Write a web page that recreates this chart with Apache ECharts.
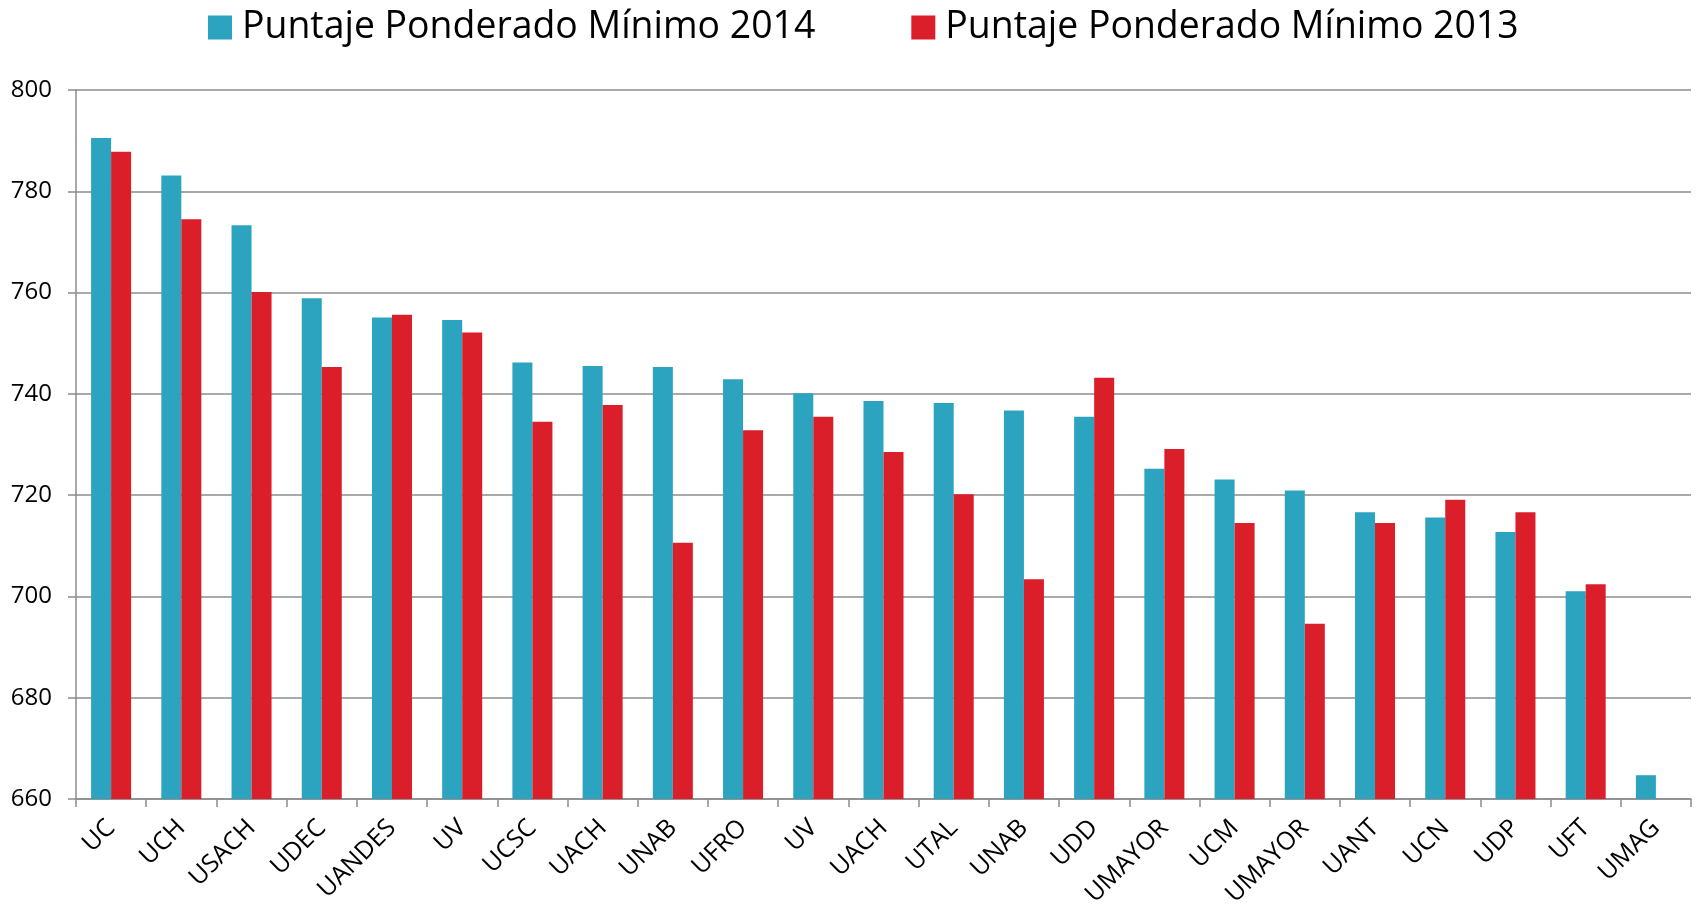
<!DOCTYPE html>
<html>
<head>
<meta charset="utf-8">
<title>Puntaje Ponderado Mínimo</title>
<script src="https://cdn.jsdelivr.net/npm/echarts@6/dist/echarts.min.js"></script>
<style>
    html, body { margin: 0; padding: 0; background: #fff; }
    #grafico { width: 1700px; height: 905px; }
</style>
</head>
<body>
<div id="grafico"></div>
<script>
// universidades (eje x)
var universidades = ['UC', 'UCH', 'USACH', 'UDEC', 'UANDES', 'UV', 'UCSC', 'UACH', 'UNAB', 'UFRO', 'UV', 'UACH',
    'UTAL', 'UNAB', 'UDD', 'UMAYOR', 'UCM', 'UMAYOR', 'UANT', 'UCN', 'UDP', 'UFT', 'UMAG'];
// puntajes 2014
var puntaje2014 = [790.5, 783.1, 773.3, 758.9, 755.1, 754.6, 746.2, 745.5, 745.3, 742.9, 740.1, 738.6,
    738.2, 736.7, 735.5, 725.2, 723.1, 720.9, 716.6, 715.6, 712.7, 701.0, 664.7];
// puntajes 2013 (UMAG sin dato)
var puntaje2013 = [787.8, 774.5, 760.1, 745.3, 755.6, 752.1, 734.5, 737.8, 710.6, 732.8, 735.5, 728.5,
    720.2, 703.4, 743.2, 729.1, 714.5, 694.6, 714.5, 719.1, 716.6, 702.4, null];
var nombres = ['Puntaje Ponderado Mínimo 2014', 'Puntaje Ponderado Mínimo 2013'];

var fuente = '"Open Sans", "DejaVu Sans", sans-serif';
var gris = '#8c8c8c';

var myChart = echarts.init(document.getElementById('grafico'));
var option = {
    animation: false,
    color: ['#2ca3bf', '#db1f2a'],
    legend: {
        data: nombres,
        left: 208,
        top: 9,
        padding: 0,
        itemWidth: 24,
        itemHeight: 24,
        itemGap: 96,
        icon: 'rect',
        textStyle: {
            fontFamily: fuente,
            fontSize: 37.4,
            color: '#000',
            padding: [0, 0, 0, 5]
        }
    },
    grid: {
        left: 76,
        right: 9,
        top: 90,
        bottom: 106,
        containLabel: false,
        outerBoundsMode: 'none'
    },
    xAxis: {
        type: 'category',
        data: universidades,
        axisLine: { lineStyle: { color: gris, width: 1.5 } },
        axisTick: { show: true, length: 8, lineStyle: { color: gris, width: 1.5 } },
        axisLabel: {
            rotate: 45,
            interval: 0,
            margin: 25,
            fontFamily: fuente,
            fontSize: 25,
            color: '#000'
        }
    },
    yAxis: {
        type: 'value',
        min: 660,
        max: 800,
        interval: 20,
        axisLine: { show: true, lineStyle: { color: gris, width: 1.5 } },
        axisTick: { show: true, length: 8, lineStyle: { color: gris, width: 1.5 } },
        splitLine: { lineStyle: { color: gris, width: 1.5 } },
        axisLabel: {
            margin: 24,
            fontFamily: fuente,
            fontSize: 24,
            color: '#000'
        }
    },
    series: [
        {
            name: nombres[0],
            type: 'bar',
            data: puntaje2014,
            barGap: '0%',
            barCategoryGap: '43%'
        },
        {
            name: nombres[1],
            type: 'bar',
            data: puntaje2013,
            barGap: '0%',
            barCategoryGap: '43%'
        }
    ]
};
myChart.setOption(option);
</script>
</body>
</html>
